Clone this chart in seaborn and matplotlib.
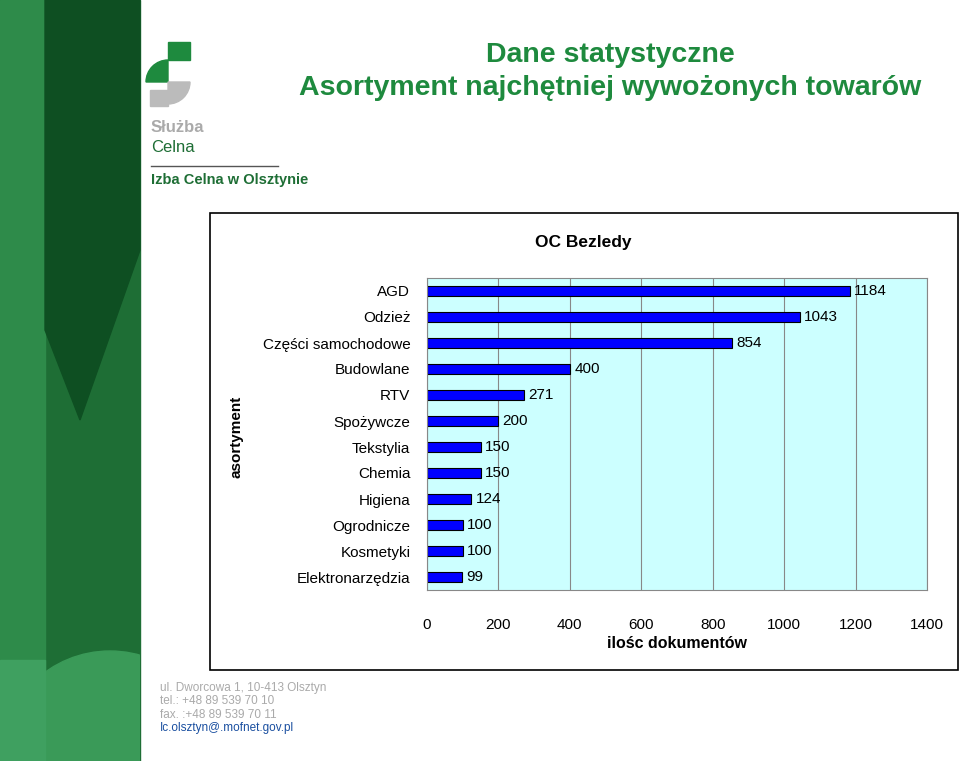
import matplotlib
matplotlib.use("Agg")
import matplotlib.pyplot as plt
import matplotlib.patches as mp
import seaborn as sns
import pandas as pd

plt.rcParams["font.family"] = "Liberation Sans"

categories = ["AGD", "Odzież", "Części samochodowe", "Budowlane", "RTV", "Spożywcze",
              "Tekstylia", "Chemia", "Higiena", "Ogrodnicze", "Kosmetyki", "Elektronarzędzia"]
values = [1184, 1043, 854, 400, 271, 200, 150, 150, 124, 100, 100, 99]
xticks = [0, 200, 400, 600, 800, 1000, 1200, 1400]

W, H = 960, 761
fig = plt.figure(figsize=(W/100, H/100), dpi=100)
fig.patch.set_facecolor("white")

bg = fig.add_axes([0, 0, 1, 1]); bg.set_xlim(0, W); bg.set_ylim(H, 0); bg.axis("off")
bg.add_patch(mp.Rectangle((0, 0), 140, H, color="#1e6e35"))
bg.add_patch(mp.Rectangle((0, 0), 45, H, color="#2e8b4a"))
bg.add_patch(mp.Polygon([(45, 0), (140, 0), (140, 250), (80, 420), (45, 330)], color="#0e4f22"))
c = mp.Circle((110, 761), 110, color="#3a9a58")
bg.add_patch(c)
c.set_clip_path(mp.Rectangle((0, 0), 140, H, transform=bg.transData))
bg.add_patch(mp.Rectangle((0, 660), 45, 101, color="#3fa060"))
bg.add_patch(mp.Wedge((168, 82), 22, 180, 270, color="#1e8a3e"))
bg.add_patch(mp.Rectangle((168, 42), 22, 18, color="#1e8a3e"))
bg.add_patch(mp.Wedge((168, 82), 22, 0, 90, color="#bbbbbb"))
bg.add_patch(mp.Rectangle((150, 90), 18, 16, color="#bbbbbb"))
bg.text(151, 128, "Służba", color="#aaaaaa", fontsize=12, fontweight="bold", va="center")
bg.text(151, 147, "Celna", color="#1e6e35", fontsize=12, va="center")
bg.plot([151, 278], [166, 166], color="#555555", lw=1)
bg.text(151, 180, "Izba Celna w Olsztynie", color="#1e6e35", fontsize=10.5, fontweight="bold", va="center")
bg.text(610, 55, "Dane statystyczne", color="#1e8a3e", fontsize=20.5, fontweight="bold", ha="center", va="center")
bg.text(610, 88, "Asortyment najchętniej wywożonych towarów", color="#1e8a3e", fontsize=20.5, fontweight="bold", ha="center", va="center")
bg.add_patch(mp.Rectangle((210, 213), 748, 457, fill=False, ec="black", lw=1.2))
bg.text(583, 242, "OC Bezledy", fontsize=12.5, fontweight="bold", ha="center", va="center")
bg.text(236, 437, "asortyment", fontsize=11, fontweight="bold", rotation=90, ha="center", va="center")
bg.text(677, 643, "ilośc dokumentów", fontsize=11.5, fontweight="bold", ha="center", va="center")
for i, t in enumerate(["ul. Dworcowa 1, 10-413 Olsztyn", "tel.: +48 89 539 70 10",
                       "fax. :+48 89 539 70 11", "Ic.olsztyn@.mofnet.gov.pl"]):
    bg.text(160, 688 + i*13.5, t, fontsize=8.5, color="#1a4fa0" if i == 3 else "#aaaaaa", va="center")

ax = fig.add_axes([427/W, 1-590/H, 500/W, 312/H])
df = pd.DataFrame({"cat": categories, "val": values})
sns.barplot(data=df, x="val", y="cat", orient="h", color="#0000ff", edgecolor="black",
            linewidth=0.8, width=0.42, ax=ax, saturation=1)
ax.set_facecolor("#ccffff")
ax.set_xlim(0, 1400)
ax.set_xticks(xticks)
ax.xaxis.grid(True, color="#888888", lw=0.8); ax.set_axisbelow(True)
ax.tick_params(axis="x", length=0, labelsize=11, pad=20)
ax.tick_params(axis="y", length=0, labelsize=11, pad=12)
ax.set_xlabel(""); ax.set_ylabel("")
for s in ax.spines.values(): s.set_color("#888888")
for i, v in enumerate(values):
    ax.text(v + 12, i, str(v), va="center", fontsize=11)
fig.savefig("out.png", dpi=100)
